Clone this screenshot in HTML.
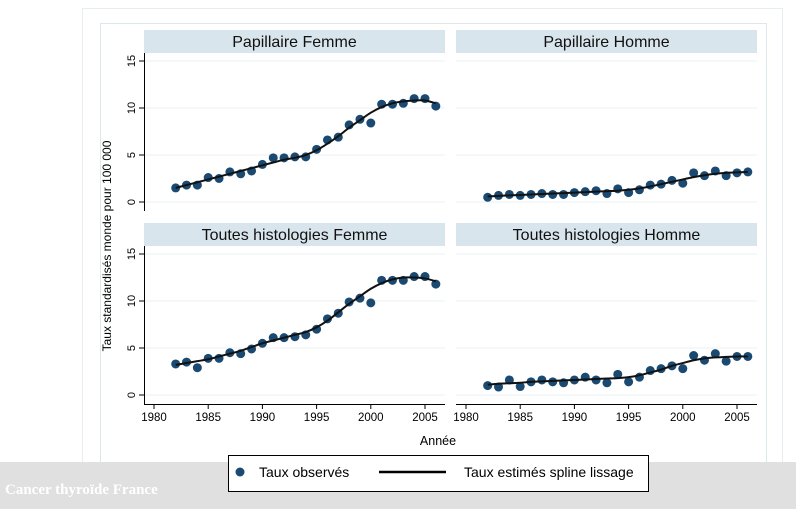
<!DOCTYPE html>
<html><head><meta charset="utf-8"><style>
html,body{margin:0;width:796px;height:509px;overflow:hidden;background:#fff;font-family:"Liberation Sans",Arial,sans-serif}
svg{display:block}
</style></head><body>
<svg width="796" height="509" id="chart">
<rect x="82.5" y="8.5" width="700" height="492" fill="none" stroke="#e6eef2"/>
<rect x="100.5" y="23.5" width="666" height="472" fill="none" stroke="#dde8ec"/>
<rect x="0" y="462" width="796" height="47" fill="#e0e0e0"/>
<text x="5" y="494" font-family="Liberation Serif,serif" font-size="15" font-weight="bold" fill="#fff">Cancer thyroïde France</text>
<text transform="translate(111,246) rotate(-90)" text-anchor="middle" font-size="12" fill="#000">Taux standardisés monde pour 100 000</text>
<text x="438" y="445" text-anchor="middle" font-size="12.5">Année</text>
<g id="panels"></g>
<g>
<rect x="228.5" y="455.5" width="420" height="36" fill="#fff" stroke="#000"/>
<circle cx="240" cy="472" r="4.5" fill="#1a4a72"/>
<text x="259" y="477" font-size="14">Taux observés</text>
<line x1="379" y1="472" x2="446" y2="472" stroke="#000" stroke-width="2.5"/>
<text x="464" y="477" font-size="14">Taux estimés spline lissage</text>
</g>
</svg>
<script>
const years=[1982,1983,1984,1985,1986,1987,1988,1989,1990,1991,1992,1993,1994,1995,1996,1997,1998,1999,2000,2001,2002,2003,2004,2005,2006];
const yTicks=[0,5,10,15];
const xTicks=[1980,1985,1990,1995,2000,2005];
const titles=["Papillaire Femme","Papillaire Homme","Toutes histologies Femme","Toutes histologies Homme"];
const obsPF=[1.5,1.8,1.8,2.6,2.5,3.2,3.0,3.3,4.0,4.7,4.7,4.8,4.8,5.6,6.6,6.9,8.2,8.8,8.4,10.4,10.4,10.5,11.0,11.0,10.2];
const obsPH=[0.5,0.7,0.8,0.7,0.8,0.9,0.8,0.8,1.0,1.1,1.2,0.9,1.4,1.0,1.3,1.8,1.9,2.3,2.0,3.1,2.8,3.3,2.8,3.1,3.2];
const obsTF=[3.3,3.5,2.9,3.9,3.9,4.5,4.4,4.9,5.5,6.1,6.1,6.2,6.4,7.0,8.1,8.7,9.9,10.3,9.8,12.2,12.2,12.2,12.6,12.6,11.8];
const obsTH=[1.0,0.85,1.6,0.9,1.4,1.6,1.4,1.3,1.6,1.9,1.6,1.3,2.2,1.4,1.9,2.6,2.8,3.1,2.8,4.2,3.7,4.4,3.6,4.1,4.1];
const fitPF=[1.5,1.8,2.1,2.4,2.7,3.0,3.3,3.6,3.9,4.2,4.5,4.7,5.0,5.5,6.2,7.0,7.9,8.7,9.5,10.1,10.5,10.7,10.8,10.8,10.5];
const fitPH=[0.6,0.65,0.7,0.75,0.8,0.85,0.9,0.95,1.0,1.05,1.1,1.15,1.2,1.3,1.45,1.65,1.9,2.15,2.4,2.65,2.85,3.0,3.1,3.15,3.2];
const fitTF=[3.2,3.4,3.6,3.8,4.1,4.4,4.7,5.1,5.5,5.8,6.1,6.4,6.7,7.2,7.9,8.8,9.7,10.5,11.3,11.9,12.3,12.5,12.5,12.4,12.1];
const fitTH=[1.1,1.2,1.25,1.3,1.4,1.45,1.5,1.55,1.6,1.65,1.7,1.75,1.8,1.9,2.1,2.4,2.7,3.1,3.4,3.7,3.9,4.0,4.05,4.1,4.1];
const obs=[obsPF,obsPH,obsTF,obsTH], fits=[fitPF,fitPH,fitTF,fitTH];
const NS="http://www.w3.org/2000/svg";
const g=document.getElementById('panels');
function mk(t,a,p){const e=document.createElementNS(NS,t);for(const k in a)e.setAttribute(k,a[k]);(p||g).appendChild(e);return e;}
const layouts=[{x0:144,x1:445,y15:61,y0:202,hy:30},{x0:456,x1:757,y15:61,y0:202,hy:30},{x0:144,x1:445,y15:254,y0:395,hy:223},{x0:456,x1:757,y15:254,y0:395,hy:223}];
layouts.forEach((L,i)=>{
  const grp=mk('g',{});
  
  
  const xs=v=>L.x0+10+(v-1980)*10.84;
  const ys=v=>L.y0-(v/15)*(L.y0-L.y15);
  const h=mk('rect',{x:L.x0,y:L.hy,width:L.x1-L.x0,height:23,fill:'#d9e5ec'},grp);
  
  
  const t=mk('text',{x:(L.x0+L.x1)/2,y:L.hy+17,'text-anchor':'middle','font-size':'16',fill:'#111'},grp);
  t.textContent=titles[i];
  
  
  yTicks.forEach(v=>{
    const gl=mk('line',{x1:L.x0,x2:L.x1,y1:ys(v),y2:ys(v),stroke:'#e8f0f3'},grp);
    
    
  });
  const lower=i>=2, left=i%2===0;
  const axisBottom=L.y0+9;
  if(left){
    const ax=mk('line',{x1:L.x0+.5,x2:L.x0+.5,y1:L.y15-8,y2:axisBottom,stroke:'#000'},grp);
    
    
    yTicks.forEach(v=>{
      mk('line',{x1:L.x0-5,x2:L.x0,y1:ys(v),y2:ys(v),stroke:'#000'},grp);
      const tl=mk('text',{transform:`translate(${L.x0-9},${ys(v)}) rotate(-90)`,'text-anchor':'middle','font-size':'11'},grp);
      tl.textContent=v;
      
      
    });
  }
  if(lower){
    const ax=mk('line',{x1:L.x0,x2:L.x1,y1:axisBottom+.5,y2:axisBottom+.5,stroke:'#000'},grp);
    
    
    xTicks.forEach(v=>{
      mk('line',{x1:xs(v),x2:xs(v),y1:axisBottom,y2:axisBottom+5,stroke:'#000'},grp);
      const tl=mk('text',{x:xs(v),y:axisBottom+17,'text-anchor':'middle','font-size':'11.5'},grp);
      tl.textContent=v;
      
      
    });
  }
  obs[i].forEach((v,j)=>{
    const c=mk('circle',{cx:xs(years[j]),cy:ys(v),r:4.5,fill:'#1a4a72'},grp);
    
    
  });
  const P=fits[i].map((v,j)=>[xs(years[j]),ys(v)]);
  let d='M'+P[0][0]+','+P[0][1];
  for(let k=0;k<P.length-1;k++){
    const p0=P[Math.max(k-1,0)],p1=P[k],p2=P[k+1],p3=P[Math.min(k+2,P.length-1)];
    d+=` C${p1[0]+(p2[0]-p0[0])/6},${p1[1]+(p2[1]-p0[1])/6} ${p2[0]-(p3[0]-p1[0])/6},${p2[1]-(p3[1]-p1[1])/6} ${p2[0]},${p2[1]}`;
  }
  const ln=mk('path',{d:d,fill:'none',stroke:'#111','stroke-width':2},grp);
  
  
});
</script>
</body></html>
